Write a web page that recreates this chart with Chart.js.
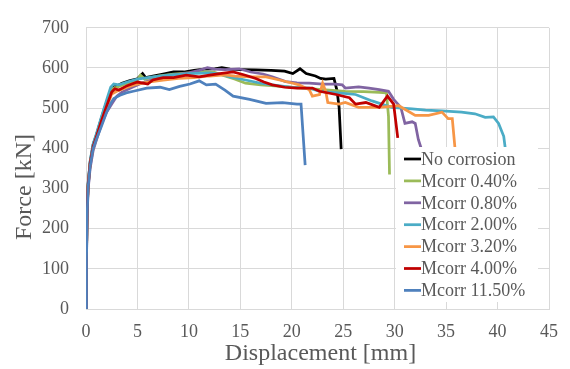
<!DOCTYPE html>
<html>
<head>
<meta charset="utf-8">
<script src="https://cdn.jsdelivr.net/npm/chart.js@4/dist/chart.umd.min.js"></script>
<style>
  html,body{margin:0;padding:0;background:#fff;}
  #wrap{width:570px;height:369px;position:relative;}
  .pre{font-family:"Liberation Serif";position:absolute;left:-9999px;}
</style>
</head>
<body>
<span class="pre">0123456789 No corrosion Mcorr %</span>
<div id="wrap"><canvas id="c" width="570" height="369"></canvas></div>
<script>
// ---- Data (x = displacement [mm], y = force [kN]) ----
const seriesLabels = ['No corrosion','Mcorr 0.40%','Mcorr 0.80%','Mcorr 2.00%','Mcorr 3.20%','Mcorr 4.00%','Mcorr 11.50%'];
const xTicks = [0,5,10,15,20,25,30,35,40,45];
const yTicks = [0,100,200,300,400,500,600,700];

const noCorrosion = [[0,0],[0.05,140],[0.1,240],[0.2,310],[0.4,365],[0.7,410],[1.0,432],[1.5,475],[2.0,515],[2.5,552],[2.7,558],[3.0,555],[3.5,562],[4.2,568],[5.0,573],[5.5,586],[5.8,576],[6.5,580],[7.5,585],[8.5,590],[9.5,590],[10.5,594],[11.5,597],[12.5,598],[13.2,601],[14.0,597],[15.0,596],[16.5,595],[18,594],[19.3,592],[20.1,586],[20.8,598],[21.4,586],[22.3,580],[22.8,574],[23.3,572],[24.1,574],[24.4,543],[24.6,502],[24.8,398]];
const mcorr040 = [[0,0],[0.05,130],[0.1,230],[0.2,305],[0.4,360],[0.7,405],[1.0,430],[1.5,470],[2.0,510],[2.5,548],[3.0,552],[4.0,562],[5.0,570],[5.3,582],[5.7,572],[7,580],[8.5,585],[10,588],[11.5,590],[12.5,589],[13.5,580],[14.5,572],[15.5,562],[17,558],[19,554],[21,550],[23,546],[25.2,542],[27,541],[28.5,539],[29.2,538],[29.4,480],[29.5,335]];
const mcorr080 = [[0,0],[0.05,120],[0.1,220],[0.2,295],[0.4,350],[0.7,395],[1.0,420],[1.5,460],[2.0,490],[2.5,510],[3.0,530],[3.5,540],[4.5,552],[5.5,563],[7,575],[8.5,582],[10,588],[11,594],[11.8,601],[12.5,597],[13.5,596],[14.9,598],[16,590],[17.2,585],[18.1,578],[19.4,566],[20.5,563],[21.7,562],[23,560],[24.2,560],[24.9,558],[25.2,550],[26.5,553],[27.5,550],[28.5,546],[29.4,542],[29.9,522],[30.6,502],[31,462],[31.7,466],[32,462],[32.3,422],[32.7,390],[32.9,340]];
const mcorr200 = [[0,0],[0.05,140],[0.1,240],[0.2,310],[0.4,368],[0.7,412],[1.0,435],[1.5,478],[2.0,520],[2.4,552],[2.7,560],[3.2,558],[4,565],[5,572],[6.5,578],[8,582],[10,586],[12,588],[13,585],[14,578],[15.5,570],[17,562],[18.1,558],[20,552],[21.7,550],[22.7,542],[24.5,538],[26.2,534],[27.8,518],[29.7,502],[31.7,498],[33,495],[34.6,493],[36.5,490],[37.8,486],[38.8,477],[39.6,478],[40.1,462],[40.6,430],[40.8,390],[40.9,370]];
const mcorr320 = [[0,0],[0.05,135],[0.1,235],[0.2,305],[0.4,360],[0.7,402],[1.0,425],[1.5,465],[2.0,500],[2.5,535],[3,542],[4,552],[5,560],[6,565],[7.5,570],[9,574],[10.5,576],[12,580],[13.5,583],[14.5,580],[16,578],[17.5,578],[18.8,570],[20.1,562],[20.7,558],[21.7,546],[22,530],[22.7,534],[23,562],[23.3,542],[23.5,514],[24.6,510],[25.2,514],[26.5,502],[28.5,502],[30.4,506],[32,482],[33.3,482],[34.6,490],[35.2,474],[35.6,474],[35.9,390],[36,370]];
const mcorr400 = [[0,0],[0.05,135],[0.1,235],[0.2,305],[0.4,362],[0.7,405],[1.0,428],[1.5,468],[2.0,505],[2.5,540],[2.8,548],[3.2,545],[4,556],[5,565],[6,560],[6.5,570],[7.5,576],[8.5,576],[9.75,582],[11,578],[12,582],[13,586],[14.3,590],[15.5,582],[16.5,574],[17.3,565],[18.1,558],[19.3,552],[20.5,550],[22,550],[22.7,542],[24.3,534],[25.6,526],[26.2,510],[27.2,514],[28.5,502],[29.3,530],[29.9,510],[30.3,426]];
const mcorr1150 = [[0,0],[0.05,125],[0.1,225],[0.2,300],[0.4,355],[0.7,400],[1.0,422],[1.5,455],[2.0,490],[2.4,512],[2.7,524],[3.3,532],[3.9,538],[4.6,542],[5.9,550],[7.2,552],[8.1,546],[9.1,554],[10.1,560],[11,568],[11.7,558],[12.6,560],[13.5,545],[14.3,530],[15.9,522],[17.5,512],[19.1,514],[20.5,510],[20.9,510],[21.3,358]];

const allSeries = [noCorrosion, mcorr040, mcorr080, mcorr200, mcorr320, mcorr400, mcorr1150];
const colors = ['#000000','#9BBB59','#8064A2','#4BACC6','#F79646','#C00000','#4F81BD'];

const FONT = '"Liberation Serif", serif';
const TEXT = '#595959';

function build() {
  const datasets = allSeries.map((s, i) => ({
    label: seriesLabels[i],
    data: s.map(p => ({x: p[0], y: p[1]})),
    borderColor: colors[i],
    backgroundColor: colors[i],
    borderWidth: 2.75,
    pointRadius: 0,
    showLine: true,
    tension: 0,
    fill: false,
    order: allSeries.length - i
  }));

  const overlayPlugin = {
    id: 'overlay',
    afterDraw(chart) {
      const ctx = chart.ctx;
      const ca = chart.chartArea;
      ctx.save();
      ctx.fillStyle = TEXT;
      ctx.font = '24px ' + FONT;
      ctx.textAlign = 'center';
      ctx.textBaseline = 'middle';
      ctx.fillText('Displacement [mm]', (ca.left + ca.right) / 2 + 3, 354);
      ctx.save();
      ctx.translate(25, 187);
      ctx.rotate(-Math.PI / 2);
      ctx.fillText('Force [kN]', 0, 0);
      ctx.restore();
      const bx = 396, by = 147, bw = 142, bh = 155;
      ctx.fillStyle = '#ffffff';
      ctx.fillRect(bx, by, bw, bh);
      ctx.font = '18px ' + FONT;
      ctx.textAlign = 'left';
      ctx.textBaseline = 'middle';
      chart.data.datasets.forEach((d, i) => {
        const y = 159 + i * 21.9;
        ctx.strokeStyle = d.borderColor;
        ctx.lineWidth = 2.75;
        ctx.beginPath();
        ctx.moveTo(404, y);
        ctx.lineTo(421, y);
        ctx.stroke();
        ctx.fillStyle = TEXT;
        ctx.fillText(d.label, 421, y + 1);
      });
      ctx.restore();
    }
  };

  new Chart(document.getElementById('c'), {
    type: 'scatter',
    data: { datasets },
    options: {
      responsive: false,
      animation: false,
      devicePixelRatio: 1,
      layout: { padding: { top: 17, right: 19, left: 0, bottom: 0 } },
      plugins: { legend: { display: false }, tooltip: { enabled: false } },
      scales: {
        x: {
          type: 'linear', min: 0, max: 45,
          afterBuildTicks: s => { s.ticks = xTicks.map(v => ({value: v})); },
          afterFit: s => { s.height = 60; },
          grid: { color: '#d9d9d9', lineWidth: 1, drawTicks: false },
          border: { color: '#d9d9d9' },
          ticks: { color: TEXT, font: { family: FONT, size: 18 }, padding: 12, maxRotation: 0 }
        },
        y: {
          type: 'linear', min: 0, max: 700,
          afterBuildTicks: s => { s.ticks = yTicks.map(v => ({value: v})); },
          afterFit: s => { s.width = 86; },
          grid: { color: '#d9d9d9', lineWidth: 1, drawTicks: false },
          border: { color: '#d9d9d9' },
          ticks: { color: TEXT, font: { family: FONT, size: 18 }, padding: 17 }
        }
      }
    },
    plugins: [overlayPlugin]
  });
}

let built = false;
function go() { if (!built) { built = true; build(); } }
if (document.fonts && document.fonts.load) {
  Promise.all([document.fonts.load('18px "Liberation Serif"'), document.fonts.load('24px "Liberation Serif"')]).then(go, go);
  setTimeout(go, 300);
} else { go(); }
</script>
</body>
</html>
